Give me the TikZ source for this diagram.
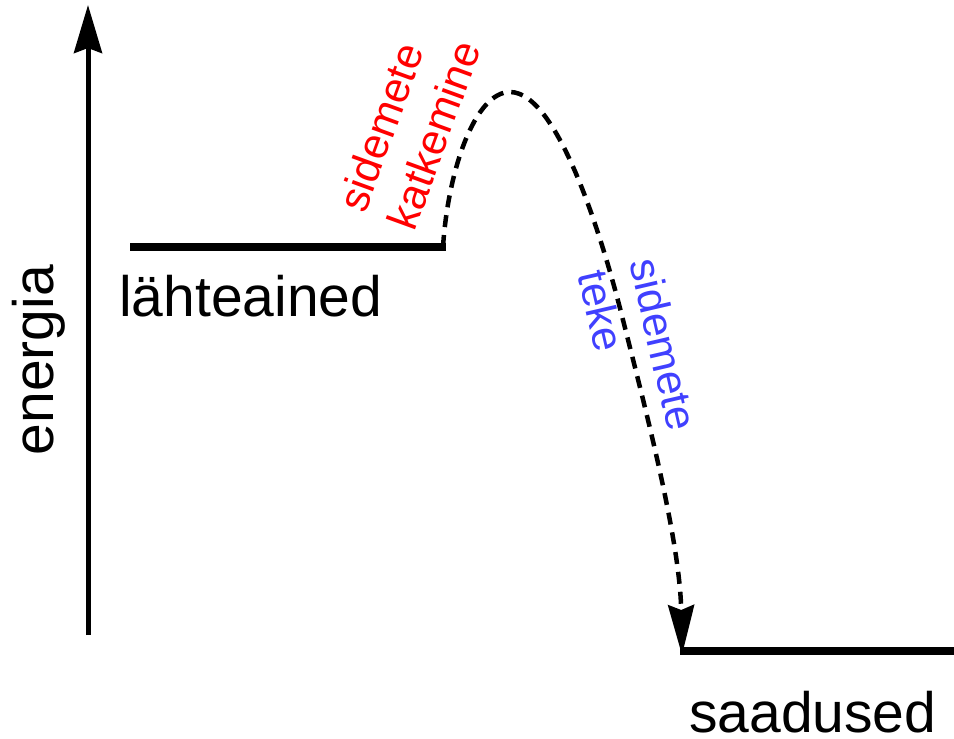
\documentclass[tikz,border=0pt]{standalone}
\usepackage{fontspec}
\setmainfont{Liberation Sans}
\usetikzlibrary{arrows.meta}
\definecolor{breakred}{RGB}{255,0,0}
\definecolor{formblue}{RGB}{64,64,255}
\begin{document}
\begin{tikzpicture}[x=1pt,y=-1pt,
  level/.style={line width=8pt},
  axisline/.style={line width=5pt,-{Stealth[length=48pt,width=28pt,inset=5pt]}},
  pathline/.style={line width=4.5pt,dash pattern=on 12pt off 8pt,-{Stealth[length=50pt,width=26pt,inset=5pt]}},
  biglabel/.style={inner sep=0pt,font=\fontsize{57}{68}\selectfont},
  sidelabel/.style={inner sep=0pt,align=left,font=\fontsize{43}{53}\selectfont}]
  \useasboundingbox (0,0) rectangle (954,739);
  % energy axis
  \coordinate (a0) at (88,635);
  \coordinate (a1) at (88,5);
  \draw[axisline] (a0) -- (a1);
  \node[biglabel,rotate=90,anchor=base] (energy) at (53,360) {energia};
  % reactant and product levels
  \coordinate (r0) at (130,247);
  \coordinate (r1) at (446,247);
  \coordinate (p0) at (680,651);
  \coordinate (p1) at (954,651);
  \draw[level] (r0) -- (r1);
  \draw[level] (p0) -- (p1);
  \node[biglabel,anchor=base west] (reactants) at (119,316) {lähteained};
  \node[biglabel,anchor=base west] (products) at (689,732) {saadused};
  % reaction path over the barrier
  \coordinate (start) at (443,247);
  \coordinate (peak) at (510,92);
  \coordinate (mid) at (623,320);
  \coordinate (tip) at (682,655);
  \draw[pathline] (start) .. controls (448,170) and (475,92) .. (peak)
    .. controls (560,92) and (606,252) .. (mid)
    .. controls (645,407) and (680,540) .. (tip);
  % bond labels
  \node[sidelabel,text=breakred,rotate=70] (breaking) at (409,126) {sidemete\\katkemine};
  \node[sidelabel,text=formblue,rotate=-77] (forming) at (638,350) {sidemete\\teke};
\end{tikzpicture}
\end{document}
